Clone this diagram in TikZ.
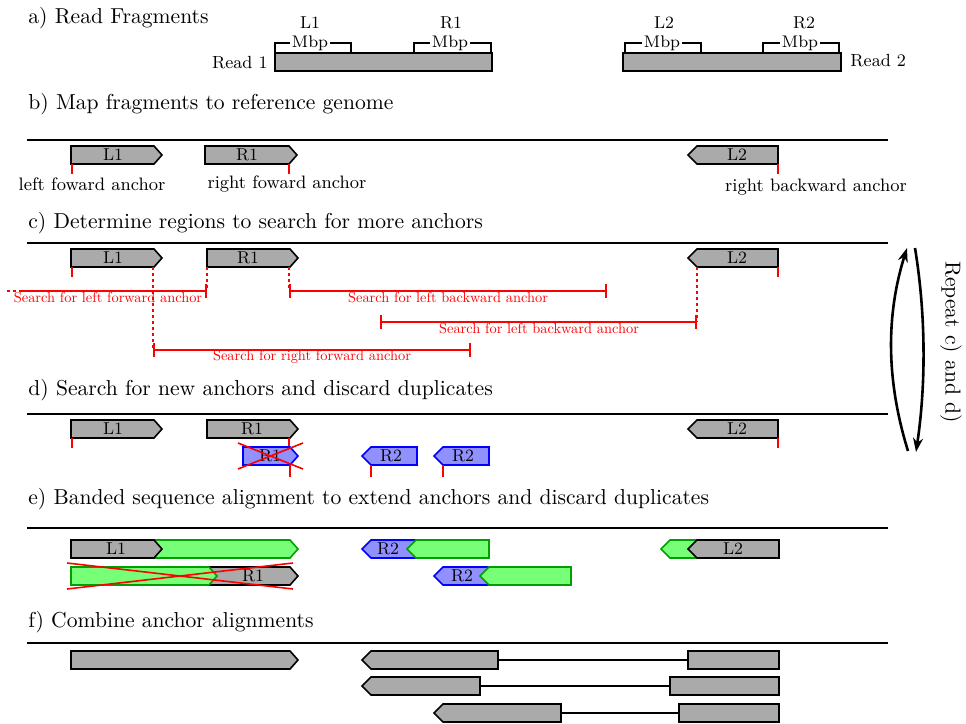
\documentclass[tikz,border=0pt]{standalone}
\usetikzlibrary{arrows.meta}
\definecolor{gfill}{HTML}{AAAAAA}
\definecolor{bfill}{HTML}{9090FF}
\definecolor{grfill}{HTML}{77FF77}
\definecolor{grline}{HTML}{00A000}
\newcommand\fwdshape[5]{\draw[#1] (#2,#4) -- ({#3-8},#4) -- (#3,{(#4+#5)/2}) -- ({#3-8},#5) -- (#2,#5) -- cycle;}
\newcommand\bwdshape[5]{\draw[#1] (#2,{(#4+#5)/2}) -- ({#2+9},#4) -- (#3,#4) -- (#3,#5) -- ({#2+9},#5) -- cycle;}
\begin{document}
\begin{tikzpicture}[x=0.5pt,y=-0.5pt,
 title/.style={anchor=west,inner sep=0pt,font=\fontsize{10.8}{13}\selectfont},
 lab/.style={inner sep=0pt,font=\fontsize{8.6}{10}\selectfont},
 anch/.style={inner sep=0pt,font=\fontsize{9}{11}\selectfont},
 srch/.style={inner sep=0pt,text=red,font=\fontsize{10}{12}\selectfont,scale=0.72},
 axisline/.style={line width=1pt},
 gshape/.style={draw=black,fill=gfill,line width=0.8pt,line join=miter},
 bshape/.style={draw=blue,fill=bfill,line width=0.8pt},
 grshape/.style={draw=grline,fill=grfill,line width=0.8pt},
 tickline/.style={red,line width=0.8pt},
 dtick/.style={red,line width=0.8pt,dash pattern=on 1.5pt off 1.5pt},
 rangeline/.style={red,line width=0.8pt},
 crossline/.style={red,line width=0.8pt},
 brk/.style={line width=1pt},
 link/.style={line width=0.6pt},
 mbp/.style={fill=white,inner xsep=1pt,inner ysep=0pt,font=\fontsize{8.4}{10}\selectfont},
 rep/.style={line width=1.3pt,-{Stealth[length=7pt,width=5pt]}},
 ]
\useasboundingbox (0,0) rectangle (966,724);

% ---------- a) ----------
\node[title] (ta) at (28,18) {a) Read Fragments};
\draw[gshape] (275,53) rectangle (492,71);
\draw[gshape] (623,53) rectangle (841,71);
\node[anch,anchor=east,font=\fontsize{8.8}{10}\selectfont] (read1) at (268,63) {Read 1};
\node[anch,anchor=west,font=\fontsize{8.8}{10}\selectfont] (read2) at (850,61) {Read 2};
\draw[brk] (275,53) -- (275,43) -- (351,43) -- (351,53);
\draw[brk] (414,53) -- (414,43) -- (491,43) -- (491,53);
\draw[brk] (625,53) -- (625,43) -- (701,43) -- (701,53);
\draw[brk] (763,53) -- (763,43) -- (839,43) -- (839,53);
\node[mbp] (m1) at (310,43) {Mbp};
\node[mbp] (m2) at (450,43) {Mbp};
\node[mbp] (m3) at (662,43) {Mbp};
\node[mbp] (m4) at (800,43) {Mbp};
\node[lab] (aL1) at (310,23) {L1};
\node[lab] (aR1) at (451,23) {R1};
\node[lab] (aL2) at (664,23) {L2};
\node[lab] (aR2) at (804,23) {R2};

% ---------- b) ----------
\node[title] (tb) at (28,104) {b) Map fragments to reference genome};
\draw[axisline] (27,140) -- (888,140);
\fwdshape{gshape}{71}{162}{146}{164}
\fwdshape{gshape}{205}{297}{146}{164}
\bwdshape{gshape}{688}{778}{146}{164}
\node[lab] (bL1) at (113,155) {L1};
\node[lab] (bR1) at (247,155) {R1};
\node[lab] (bL2) at (737,155) {L2};
\draw[tickline] (72,164) -- (72,174);
\draw[tickline] (289,164) -- (289,174);
\draw[tickline] (778,164) -- (778,174);
\node[anch] (lfa) at (92,184) {left foward anchor};
\node[anch] (rfa) at (287,184) {right foward anchor};
\node[anch] (rba) at (816,187) {right backward anchor};

% ---------- c) ----------
\node[title] (tc) at (28,223) {c) Determine regions to search for more anchors};
\draw[axisline] (27,243) -- (888,243);
\fwdshape{gshape}{71}{162}{249}{267}
\fwdshape{gshape}{207}{298}{249}{267}
\bwdshape{gshape}{688}{778}{249}{267}
\node[lab] (cL1) at (113,258) {L1};
\node[lab] (cR1) at (248,258) {R1};
\node[lab] (cL2) at (737,258) {L2};
\draw[tickline] (72,267) -- (72,277);
\draw[tickline] (778,267) -- (778,277);
\draw[dtick] (153,267) -- (153,350);
\draw[dtick] (207,267) -- (207,291);
\draw[dtick] (289,267) -- (289,291);
\draw[dtick] (697,267) -- (697,322);
\draw[dtick] (7,291) -- (20,291);
\draw[rangeline,-{Bar[width=7pt]}] (20,291) -- (207,291);
\draw[rangeline,{Bar[width=7pt]}-{Bar[width=7pt]}] (289,291) -- (607,291);
\draw[rangeline,{Bar[width=7pt]}-{Bar[width=7pt]}] (380,322) -- (697,322);
\draw[rangeline,{Bar[width=7pt]}-{Bar[width=7pt]}] (153,350) -- (471,350);
\node[srch] (s1) at (108,298) {Search for left forward anchor};
\node[srch] (s2) at (448,298) {Search for left backward anchor};
\node[srch] (s3) at (539,329) {Search for left backward anchor};
\node[srch] (s4) at (312,357) {Search for right forward anchor};

% ---------- d) ----------
\node[title] (td) at (28,390) {d) Search for new anchors and discard duplicates};
\draw[axisline] (27,414) -- (888,414);
\fwdshape{gshape}{71}{162}{420}{438}
\fwdshape{gshape}{207}{298}{420}{438}
\bwdshape{gshape}{688}{778}{420}{438}
\node[lab] (dL1) at (113,429) {L1};
\node[lab] (dR1) at (252,429) {R1};
\node[lab] (dL2) at (737,429) {L2};
\draw[tickline] (72,438) -- (72,448);
\draw[tickline] (289,438) -- (289,447);
\draw[tickline] (778,438) -- (778,448);
\fwdshape{bshape}{243}{298}{447}{465}
\bwdshape{bshape}{362}{417}{447}{465}
\bwdshape{bshape}{434}{489}{447}{465}
\node[lab] (dR1b) at (270,456) {R1};
\node[lab] (dR2a) at (391,456) {R2};
\node[lab] (dR2b) at (463,456) {R2};
\draw[tickline] (290,465) -- (290,477);
\draw[tickline] (371,465) -- (371,477);
\draw[tickline] (443,465) -- (443,477);
\draw[crossline] (238,443) -- (303,469);
\draw[crossline] (238,469) -- (303,443);

% repeat arrows
\draw[rep] (908,451) .. controls (886,380) and (886,315) .. (907,248);
\draw[rep] (915,248) .. controls (926,315) and (926,385) .. (916,452);
\node[title,anchor=center,rotate=-90] (repeat) at (951,342) {Repeat c) and d)};

% ---------- e) ----------
\node[title] (te) at (28,499) {e) Banded sequence alignment to extend anchors and discard duplicates};
\draw[axisline] (27,528) -- (888,528);
\fwdshape{grshape}{145}{298}{540}{558}
\fwdshape{gshape}{71}{162}{540}{558}
\node[lab] (eL1) at (116,549) {L1};
\fwdshape{gshape}{200}{298}{567}{585}
\fwdshape{grshape}{71}{217}{567}{585}
\node[lab] (eR1) at (253,576) {R1};
\draw[crossline] (67,563) -- (293,589);
\draw[crossline] (67,589) -- (293,563);
\bwdshape{bshape}{362}{425}{540}{558}
\bwdshape{grshape}{407}{489}{540}{558}
\node[lab] (eR2a) at (388,549) {R2};
\bwdshape{bshape}{434}{495}{567}{585}
\bwdshape{grshape}{480}{571}{567}{585}
\node[lab] (eR2b) at (462,576) {R2};
\bwdshape{grshape}{661}{705}{540}{558}
\bwdshape{gshape}{688}{779}{540}{558}
\node[lab] (eL2) at (733,549) {L2};

% ---------- f) ----------
\node[title] (tf) at (28,622) {f) Combine anchor alignments};
\draw[axisline] (27,643) -- (888,643);
\fwdshape{gshape}{71}{298}{651}{669}
\bwdshape{gshape}{362}{498}{651}{669}
\draw[gshape] (688,651) rectangle (779,669);
\coordinate (f1a) at (498,660);
\coordinate (f1b) at (688,660);
\draw[link] (f1a) -- (f1b);
\bwdshape{gshape}{362}{480}{677}{695}
\draw[gshape] (670,677) rectangle (779,695);
\coordinate (f2a) at (480,686);
\coordinate (f2b) at (670,686);
\draw[link] (f2a) -- (f2b);
\bwdshape{gshape}{434}{561}{704}{722}
\draw[gshape] (679,704) rectangle (779,722);
\coordinate (f3a) at (561,713);
\coordinate (f3b) at (679,713);
\draw[link] (f3a) -- (f3b);
\end{tikzpicture}
\end{document}
